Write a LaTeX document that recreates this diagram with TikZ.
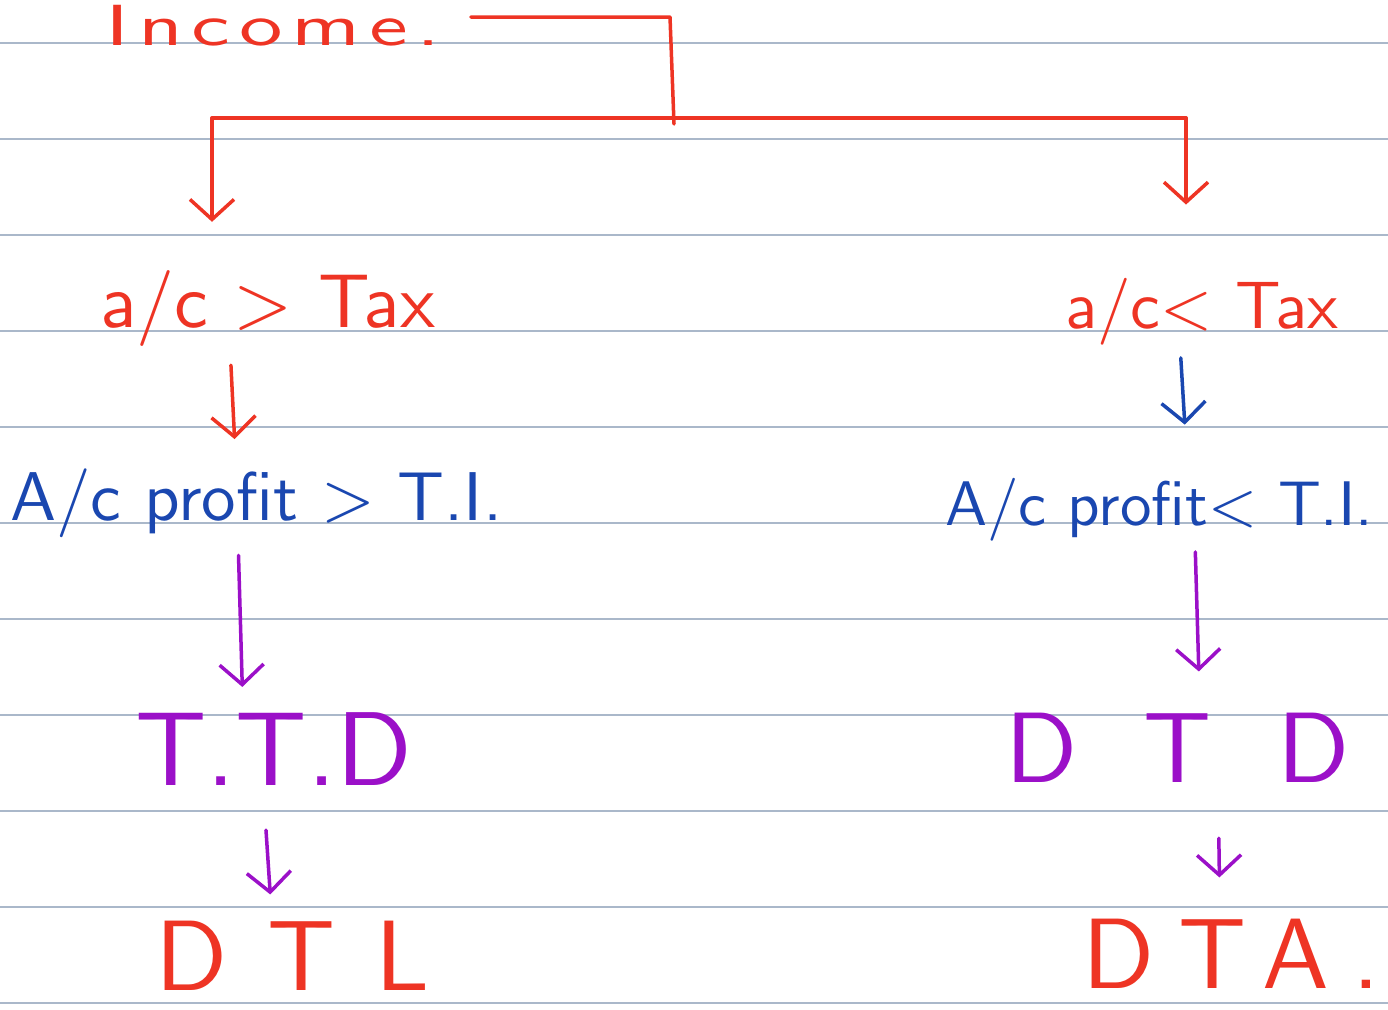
\documentclass[tikz,border=0pt]{standalone}
\usepackage{fontspec}
\usetikzlibrary{arrows.meta}
\newfontfamily\handfont{lmsans10-regular.otf}
\definecolor{penred}{RGB}{238,52,36}
\definecolor{penblue}{RGB}{26,71,176}
\definecolor{penpurple}{RGB}{155,16,200}
\definecolor{ruleline}{RGB}{170,184,202}
\begin{document}
\begin{tikzpicture}[>={Straight Barb[length=20pt,width=44pt]}, line join=round, line cap=round, x=1pt, y=-1pt,
    pen/.style={line width=3.5pt},
    hand/.style={inner sep=0pt, anchor=base west}]
        \useasboundingbox (0,0) rectangle (1388,1009);
        \clip (0,0) rectangle (1388,1009);
        % ruled paper
        \foreach \y in {43,139,...,1003}
            \draw[ruleline, line width=1.5pt] (0,\y) -- (1388,\y);
        % texts
        \node[hand, penred, font=\fontsize{58}{70}\handfont\addfontfeatures{LetterSpace=10}] (income) at (105,45) {\scalebox{1.5}[1]{Income.}};
        \node[hand, penred, font=\fontsize{76}{90}\handfont] (acgt) at (100,327) {a/c > Tax};
        \node[hand, penred, font=\fontsize{67}{80}\handfont] (aclt) at (1065,328) {a/c< Tax};
        \node[hand, penblue, font=\fontsize{69}{84}\handfont] (pgt) at (10,520) {A/c profit > T.I.};
        \node[hand, penblue, font=\fontsize{63}{76}\handfont] (plt) at (945,525) {A/c profit< T.I.};
        \node[hand, penpurple, font=\fontsize{105}{120}\handfont] (ttd) at (135,785) {T.T.D};
        \node[hand, penpurple, font=\fontsize{100}{120}\handfont\addfontfeatures{LetterSpace=66}] (dtd) at (1005,782) {DTD};
        \node[hand, penred, font=\fontsize{100}{120}\handfont\addfontfeatures{LetterSpace=40}] (dtl) at (155,990) {DTL};
        \node[hand, penred, font=\fontsize{100}{120}\handfont\addfontfeatures{LetterSpace=24}] (dta) at (1082,988) {DTA.};
        % fork
        \coordinate (top) at (670,17);
        \coordinate (fork) at (674,124);
        \coordinate (forkL) at (212,118);
        \coordinate (forkR) at (1186,118);
        \draw[pen, penred] (income.east |- top) ++(30,0) -- (top) -- (fork);
        \draw[pen, penred] (forkL) -- (forkR);
        \draw[pen, penred, ->, shorten >=48pt] (forkL) -- (forkL |- acgt.north);
        \draw[pen, penred, ->, shorten >=73pt] (forkR) -- (forkR |- aclt.north);
        % chains
        \draw[pen, penred, ->, shorten <=19pt, shorten >=29pt] (acgt.south -| 230,0) -- (pgt.north -| 236,0);
        \draw[pen, penblue, ->, shorten <=13pt, shorten >=53pt] (aclt.south -| 1180,0) -- (plt.north -| 1188,0);
        \draw[pen, penpurple, ->, shorten <=18pt, shorten >=25pt] (pgt.south -| 238,0) -- (ttd.north -| 243,0);
        \draw[pen, penpurple, ->, shorten <=11pt, shorten >=41pt] (plt.south -| 1195,0) -- (dtd.north -| 1200,0);
        \draw[pen, penpurple, ->, shorten <=45pt, shorten >=26pt] (ttd.south -| 263,0) -- (dtl.north -| 272,0);
        \draw[pen, penpurple, ->, shorten <=56pt, shorten >=41pt] (dtd.south -| 1218,0) -- (dta.north -| 1220,0);
    \end{tikzpicture}
\end{document}
